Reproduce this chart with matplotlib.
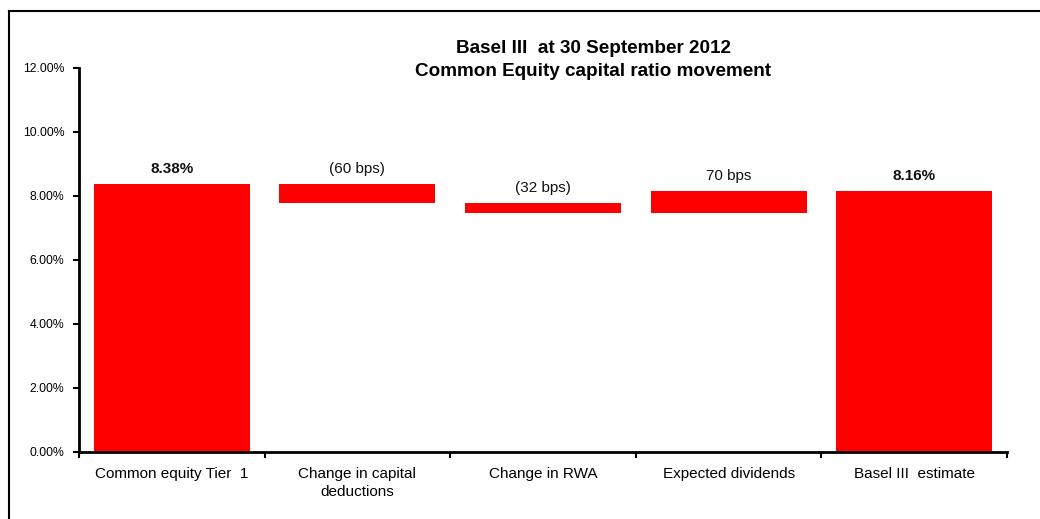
import matplotlib.pyplot as plt
from matplotlib.lines import Line2D
from matplotlib.ticker import FuncFormatter

plt.rcParams['font.family'] = ['Liberation Sans', 'DejaVu Sans']

# data (percent)
categories = ["Common equity Tier  1", "Change in capital\ndeductions",
              "Change in RWA", "Expected dividends", "Basel III  estimate"]
start_value = 8.38
changes = [-0.60, -0.32, 0.70]
end_value = 8.16
change_labels = ["(60 bps)", "(32 bps)", "70 bps"]

# waterfall geometry
bottoms = [0]
heights = [start_value]
level = start_value
for c in changes:
    new_level = level + c
    bottoms.append(min(level, new_level))
    heights.append(abs(c))
    level = new_level
bottoms.append(0)
heights.append(end_value)

labels = ["%.2f%%" % start_value] + change_labels + ["%.2f%%" % end_value]
bold = [True, False, False, False, True]

fig = plt.figure(figsize=(10.4, 5.19), dpi=100)
ax = fig.add_axes([79/1040, 1-452/519, (1007-79)/1040, (452-68)/519])

x = range(len(categories))
ax.bar(x, heights, bottom=bottoms, width=0.84, color='#ff0000')

for i in x:
    top = bottoms[i] + heights[i]
    ax.annotate(labels[i], (i, top), xytext=(0, 6), textcoords='offset points',
                ha='center', va='bottom', fontsize=11,
                fontweight='bold' if bold[i] else 'normal', color='#111111')

ax.set_xlim(-0.5, len(categories) - 0.5)
ax.set_ylim(0, 12)
ax.set_yticks([0, 2, 4, 6, 8, 10, 12])
ax.yaxis.set_major_formatter(FuncFormatter(lambda v, p: "%.2f%%" % v))

ax.set_xticks(list(x))
ax.set_xticklabels(categories, fontsize=11, linespacing=1.35)
ax.set_xticks([i - 0.5 for i in range(len(categories) + 1)], minor=True)
ax.tick_params(axis='x', which='major', length=0, pad=11)
ax.tick_params(axis='x', which='minor', length=4, width=1.5, direction='out')
ax.tick_params(axis='y', length=4.5, width=1.5, direction='out', labelsize=8.8, pad=6)

for s in ['top', 'right']:
    ax.spines[s].set_visible(False)
for s in ['left', 'bottom']:
    ax.spines[s].set_linewidth(2)

fig.text(593/1040, 1-60/519, "Basel III  at 30 September 2012\nCommon Equity capital ratio movement",
         ha='center', va='center', fontsize=13.6, fontweight='bold', linespacing=1.4)

# chart frame (only top and left visible)
fig.add_artist(Line2D([9/1040, 1], [1-11/519, 1-11/519], color='black', lw=1.5))
fig.add_artist(Line2D([9/1040, 9/1040], [0, 1-11/519], color='black', lw=1.5))

fig.savefig('out.png', dpi=100)
